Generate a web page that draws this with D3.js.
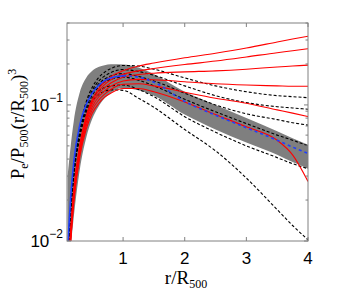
<!DOCTYPE html>
<html>
<head>
  <meta charset="utf-8">
  <script src="https://d3js.org/d3.v7.min.js"></script>
  <style>
    body { margin: 0; background: #fff; }
    .tick-label { font-family: "Liberation Sans", Arial, sans-serif; font-size: 17px; fill: #000; }
    .axis-title { font-family: "Liberation Serif", "DejaVu Serif", serif; font-size: 19px; fill: #000; }
  </style>
</head>
<body>
<script>
  // radius grid shared by every curve (r/R500)
  const rGrid = [0.1, 0.15, 0.2, 0.3, 0.4, 0.5, 0.6, 0.7, 0.8, 1.0, 1.25, 1.5, 2.0, 2.5, 3.0, 3.5, 3.75, 4.0];

  // grey scatter band
  const bandUpper = [0.03, 0.05, 0.076, 0.125, 0.158, 0.178, 0.19, 0.196, 0.199, 0.198, 0.188, 0.168, 0.125, 0.1, 0.08, 0.064, 0.057, 0.051];
  const bandLower = [0.005, 0.009, 0.015, 0.034, 0.057, 0.079, 0.097, 0.112, 0.123, 0.133, 0.128, 0.117, 0.085, 0.066, 0.053, 0.043, 0.038, 0.034];

  // blue mean profile (solid inside R500, dashed beyond)
  const blueProfile = [0.009, 0.021, 0.038, 0.072, 0.1, 0.122, 0.139, 0.151, 0.158, 0.164, 0.16, 0.147, 0.106, 0.084, 0.068, 0.055, 0.049, 0.044];

  // black dashed profiles
  const dashed1 = [0.006, 0.017, 0.033, 0.068, 0.105, 0.135, 0.158, 0.174, 0.185, 0.195, 0.193, 0.183, 0.158, 0.138, 0.125, 0.117, 0.115, 0.113];
  const dashed2 = [0.006, 0.016, 0.032, 0.066, 0.1, 0.128, 0.149, 0.163, 0.173, 0.182, 0.176, 0.165, 0.138, 0.117, 0.104, 0.097, 0.095, 0.093];
  const dashed3 = [0.006, 0.016, 0.031, 0.064, 0.097, 0.123, 0.142, 0.155, 0.163, 0.17, 0.162, 0.15, 0.122, 0.1, 0.086, 0.078, 0.074, 0.071];
  const dashed4 = [0.006, 0.016, 0.031, 0.062, 0.094, 0.118, 0.135, 0.147, 0.154, 0.16, 0.152, 0.138, 0.11, 0.089, 0.073, 0.06, 0.055, 0.05];
  const dashed5 = [0.006, 0.015, 0.03, 0.06, 0.09, 0.112, 0.126, 0.134, 0.138, 0.14, 0.13, 0.115, 0.082, 0.063, 0.05, 0.041, 0.037, 0.034];
  const dashed6 = [0.006, 0.015, 0.029, 0.058, 0.087, 0.107, 0.119, 0.126, 0.129, 0.128, 0.112, 0.096, 0.066, 0.046, 0.029, 0.017, 0.013, 0.0102];

  // red profiles
  const red1 = [0.005, 0.012, 0.024, 0.052, 0.083, 0.11, 0.131, 0.148, 0.161, 0.178, 0.193, 0.203, 0.222, 0.24, 0.262, 0.29, 0.305, 0.32];
  const red2 = [0.005, 0.012, 0.023, 0.05, 0.08, 0.106, 0.126, 0.141, 0.153, 0.168, 0.178, 0.185, 0.198, 0.21, 0.225, 0.242, 0.25, 0.259];
  const red3 = [0.005, 0.011, 0.022, 0.048, 0.077, 0.102, 0.12, 0.134, 0.145, 0.16, 0.167, 0.171, 0.175, 0.178, 0.183, 0.19, 0.193, 0.196];
  const red4 = [0.005, 0.011, 0.021, 0.046, 0.074, 0.097, 0.114, 0.127, 0.137, 0.15, 0.154, 0.153, 0.148, 0.143, 0.14, 0.138, 0.137, 0.137];
  const red5 = [0.005, 0.01, 0.02, 0.044, 0.07, 0.092, 0.108, 0.12, 0.13, 0.142, 0.143, 0.138, 0.124, 0.112, 0.103, 0.092, 0.087, 0.082];
  const red6 = [0.005, 0.01, 0.019, 0.042, 0.066, 0.087, 0.102, 0.114, 0.122, 0.132, 0.132, 0.125, 0.105, 0.085, 0.069, 0.055, 0.043, 0.0274];

  const xTicks = [1, 2, 3, 4];
  const yMajor = [0.01, 0.1];
  const yMajorLabels = ["\u22122", "\u22121"];

  const W = 341, H = 297;
  const mLeft = 67, mRight = 308, mTop = 23, mBottom = 241;

  const svg = d3.select("body").append("svg")
    .attr("width", W).attr("height", H);

  const x = d3.scaleLinear().domain([0.09, 4]).range([mLeft, mRight]);
  const y = d3.scaleLog().domain([0.01, 0.4]).range([mBottom, mTop]);

  svg.append("clipPath").attr("id", "plotclip")
    .append("rect").attr("x", mLeft).attr("y", mTop)
    .attr("width", mRight - mLeft).attr("height", mBottom - mTop);

  const plot = svg.append("g").attr("clip-path", "url(#plotclip)");

  const area = d3.area()
    .x((d, i) => x(rGrid[i]))
    .y0((d, i) => y(bandLower[i]))
    .y1((d, i) => y(bandUpper[i]))
    .curve(d3.curveMonotoneX);

  plot.append("path").datum(bandUpper)
    .attr("d", area)
    .attr("fill", "#7f7f7f");

  const line = d3.line()
    .x(d => x(d[0]))
    .y(d => y(d[1]))
    .curve(d3.curveMonotoneX);

  const pts = vals => vals.map((v, i) => [rGrid[i], v]);

  [dashed1, dashed2, dashed3, dashed4, dashed5, dashed6].forEach(s => {
    plot.append("path").datum(pts(s))
      .attr("d", line)
      .attr("fill", "none")
      .attr("stroke", "#000")
      .attr("stroke-width", 1.1)
      .attr("stroke-dasharray", "3,2");
  });

  [red1, red2, red3, red4, red5, red6].forEach(s => {
    plot.append("path").datum(pts(s))
      .attr("d", line)
      .attr("fill", "none")
      .attr("stroke", "#ff0000")
      .attr("stroke-width", 1.1);
  });

  const blue = pts(blueProfile);
  plot.append("path").datum(blue.filter(d => d[0] <= 1.0))
    .attr("d", line)
    .attr("fill", "none")
    .attr("stroke", "#1f3fff")
    .attr("stroke-width", 1.6);
  plot.append("path").datum(blue.filter(d => d[0] >= 1.0))
    .attr("d", line)
    .attr("fill", "none")
    .attr("stroke", "#1f3fff")
    .attr("stroke-width", 1.6)
    .attr("stroke-dasharray", "3,3");

  // frame
  svg.append("rect")
    .attr("x", mLeft).attr("y", mTop)
    .attr("width", mRight - mLeft).attr("height", mBottom - mTop)
    .attr("fill", "none").attr("stroke", "#808080").attr("stroke-width", 1);

  // x ticks (inward, bottom and top)
  xTicks.forEach(t => {
    const px = x(t);
    svg.append("line").attr("x1", px).attr("x2", px).attr("y1", mBottom).attr("y2", mBottom - 4)
      .attr("stroke", "#808080");
    svg.append("line").attr("x1", px).attr("x2", px).attr("y1", mTop).attr("y2", mTop + 4)
      .attr("stroke", "#808080");
    svg.append("text").attr("class", "tick-label")
      .attr("x", px).attr("y", 264)
      .attr("text-anchor", "middle")
      .text(t);
  });

  // y ticks: majors and minors on both sides
  const yMinor = [];
  [0.01, 0.1].forEach(dec => {
    for (let k = 2; k <= 9; k++) {
      const v = dec * k;
      if (v <= 0.4) yMinor.push(v);
    }
  });
  yMinor.forEach(v => {
    const py = y(v);
    svg.append("line").attr("x1", mLeft).attr("x2", mLeft + 2.5).attr("y1", py).attr("y2", py).attr("stroke", "#808080");
    svg.append("line").attr("x1", mRight).attr("x2", mRight - 2.5).attr("y1", py).attr("y2", py).attr("stroke", "#808080");
  });
  yMajor.forEach((v, i) => {
    const py = y(v);
    svg.append("line").attr("x1", mLeft).attr("x2", mLeft + 4).attr("y1", py).attr("y2", py).attr("stroke", "#808080");
    svg.append("line").attr("x1", mRight).attr("x2", mRight - 4).attr("y1", py).attr("y2", py).attr("stroke", "#808080");
    const t = svg.append("text").attr("class", "tick-label")
      .attr("x", 63).attr("y", py + 6)
      .attr("text-anchor", "end");
    t.append("tspan").text("10");
    t.append("tspan").attr("dy", -9).attr("font-size", 12).text(yMajorLabels[i]);
  });

  // x title
  const xt = svg.append("text").attr("class", "axis-title")
    .attr("x", 186).attr("y", 284).attr("text-anchor", "middle");
  xt.append("tspan").text("r/R");
  xt.append("tspan").attr("dy", 4).attr("font-size", 12).text("500");

  // y title
  const yt = svg.append("text").attr("class", "axis-title")
    .attr("transform", "translate(24,124) rotate(-90)")
    .attr("text-anchor", "middle");
  yt.append("tspan").text("P");
  yt.append("tspan").attr("dy", 4).attr("font-size", 12).text("e");
  yt.append("tspan").attr("dy", -4).text("/P");
  yt.append("tspan").attr("dy", 4).attr("font-size", 12).text("500");
  yt.append("tspan").attr("dy", -4).text("(r/R");
  yt.append("tspan").attr("dy", 4).attr("font-size", 12).text("500");
  yt.append("tspan").attr("dy", -4).text(")");
  yt.append("tspan").attr("dy", -8).attr("font-size", 12).text("3");
</script>
</body>
</html>
